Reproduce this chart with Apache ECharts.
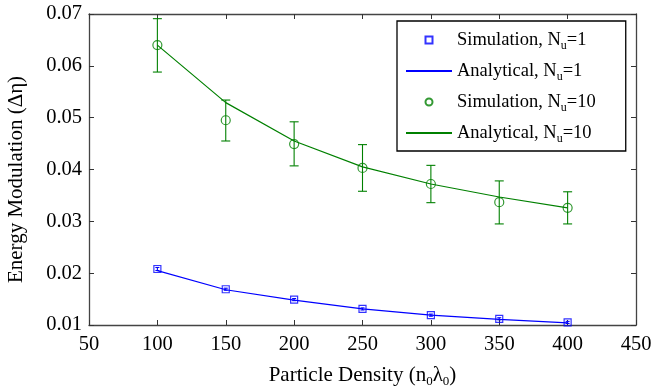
<!DOCTYPE html>
<html>
<head>
<meta charset="utf-8">
<script src="https://cdn.jsdelivr.net/npm/echarts@6/dist/echarts.min.js"></script>
<style>
  html, body { margin: 0; padding: 0; background: #fff; }
  #chart { width: 652px; height: 387px; }
</style>
</head>
<body>
<div id="chart"></div>
<script>
const densities = [100, 150, 200, 250, 300, 350, 400];

// N_u = 1
const sim1 = [0.0208, 0.0169, 0.0149, 0.0131, 0.0119, 0.0112, 0.0105];
const sim1Err = [0.0003, 0.0002, 0.0002, 0.0002, 0.0002, 0.0002, 0.0002];
const ana1 = [0.0205, 0.0168, 0.0148, 0.0131, 0.0119, 0.0111, 0.0104];

// N_u = 10
const sim10 = [0.0640, 0.0495, 0.0449, 0.0403, 0.0372, 0.0337, 0.0326];
const sim10Lo = [0.0588, 0.0455, 0.0407, 0.0358, 0.0336, 0.0295, 0.0295];
const sim10Hi = [0.0691, 0.0534, 0.0492, 0.0448, 0.0408, 0.0378, 0.0357];
const ana10 = [0.0640, 0.0529, 0.0455, 0.0405, 0.0372, 0.0347, 0.0326];

const xTicks = [50, 450, 50];      // min, max, step
const yTicks = [0.01, 0.07, 0.01];

const BLUE = "#0000ff";
const GREEN = "#008000";
const FONT = "Liberation Serif";

const LEGEND_LABELS = {
  sim1: ["Simulation, N", "=1"],
  ana1: ["Analytical, N", "=1"],
  sim10: ["Simulation, N", "=10"],
  ana10: ["Analytical, N", "=10"],
};

function errorBars(lo, hi, color, cap) {
  return {
    type: "custom",
    silent: true,
    z: 3,
    data: densities.map((x, i) => [x, lo[i], hi[i]]),
    renderItem: (params, api) => {
      const top = api.coord([api.value(0), api.value(2)]);
      const bot = api.coord([api.value(0), api.value(1)]);
      const style = { stroke: color, lineWidth: 1.1 };
      return {
        type: "group",
        children: [
          { type: "line", shape: { x1: top[0], y1: top[1], x2: bot[0], y2: bot[1] }, style },
          { type: "line", shape: { x1: top[0] - cap, y1: top[1], x2: top[0] + cap, y2: top[1] }, style },
          { type: "line", shape: { x1: bot[0] - cap, y1: bot[1], x2: bot[0] + cap, y2: bot[1] }, style },
        ],
      };
    },
  };
}

const axisLine = { show: true, lineStyle: { color: "#444", width: 1.3 } };
const tickIn = { show: true, inside: true, length: 5, lineStyle: { color: "#333" } };
const noSymbol = { color: "rgba(0,0,0,0)", borderWidth: 0 };

const chart = echarts.init(document.getElementById("chart"), null, { renderer: "canvas" });

chart.setOption({
  animation: false,
  textStyle: { fontFamily: FONT },
  grid: { left: 89, right: 16, top: 14, bottom: 62, containLabel: false, outerBoundsMode: "none" },
  legend: {
    orient: "vertical",
    left: 397,
    top: 21,
    padding: [7, 30, 6, 8],
    itemGap: 7,
    itemWidth: 46,
    itemHeight: 7,
    borderColor: "#000",
    borderWidth: 1.3,
    backgroundColor: "#fff",
    data: [
      { name: "sim1", icon: "path://M0,0L10,0L10,10L0,10Z" },
      { name: "ana1", itemStyle: noSymbol },
      { name: "sim10", icon: "circle" },
      { name: "ana10", itemStyle: noSymbol },
    ],
    formatter: (name) => {
      const [a, b] = LEGEND_LABELS[name];
      return `{t|${a}}{s|u}{t|${b}}`;
    },
    textStyle: {
      color: "#000",
      rich: {
        t: { fontFamily: FONT, fontSize: 18.5, color: "#000", lineHeight: 22 },
        s: { fontFamily: FONT, fontSize: 12, color: "#000", padding: [12, 0, 0, 0], lineHeight: 22 },
      },
    },
  },
  xAxis: [
    {
      type: "value",
      min: xTicks[0],
      max: xTicks[1],
      interval: xTicks[2],
      name: "{t|Particle Density (n}{s|0}{t|λ}{s|0}{t|)}",
      nameLocation: "middle",
      nameGap: 38,
      nameTextStyle: {
        rich: {
          t: { fontFamily: FONT, fontSize: 21, color: "#000" },
          s: { fontFamily: FONT, fontSize: 13, color: "#000", padding: [12, 0, 0, 0] },
        },
      },
      axisLine,
      axisTick: tickIn,
      splitLine: { show: false },
      axisLabel: { color: "#000", fontSize: 20.5, fontFamily: FONT, margin: 9 },
    },
    {
      type: "value",
      position: "top",
      min: xTicks[0],
      max: xTicks[1],
      interval: xTicks[2],
      axisLine,
      axisTick: tickIn,
      axisLabel: { show: false },
      splitLine: { show: false },
    },
  ],
  yAxis: [
    {
      type: "value",
      min: yTicks[0],
      max: yTicks[1],
      interval: yTicks[2],
      name: "Energy Modulation (Δη)",
      nameLocation: "middle",
      nameGap: 62,
      nameTextStyle: { fontFamily: FONT, fontSize: 21, color: "#000", padding: [0, 20, 0, 0] },
      axisLine,
      axisTick: tickIn,
      splitLine: { show: false },
      axisLabel: {
        color: "#000",
        fontSize: 20.5,
        fontFamily: FONT,
        margin: 7,
        formatter: (v) => v.toFixed(2),
      },
    },
    {
      type: "value",
      position: "right",
      min: yTicks[0],
      max: yTicks[1],
      interval: yTicks[2],
      axisLine,
      axisTick: tickIn,
      axisLabel: { show: false },
      splitLine: { show: false },
    },
  ],
  series: [
    {
      name: "ana1",
      type: "line",
      data: densities.map((x, i) => [x, ana1[i]]),
      symbol: "none",
      lineStyle: { color: BLUE, width: 1.2 },
      itemStyle: { color: BLUE },
      z: 2,
    },
    {
      name: "ana10",
      type: "line",
      data: densities.map((x, i) => [x, ana10[i]]),
      symbol: "none",
      lineStyle: { color: GREEN, width: 1.2 },
      itemStyle: { color: GREEN },
      z: 2,
    },
    errorBars(sim1.map((v, i) => v - sim1Err[i]), sim1.map((v, i) => v + sim1Err[i]), BLUE, 2),
    errorBars(sim10Lo, sim10Hi, GREEN, 4.5),
    {
      name: "sim1",
      type: "scatter",
      data: densities.map((x, i) => [x, sim1[i]]),
      symbol: "rect",
      symbolSize: 7,
      itemStyle: { color: "rgba(0,0,0,0)", borderColor: BLUE, borderWidth: 1.2 },
      z: 4,
    },
    {
      name: "sim10",
      type: "scatter",
      data: densities.map((x, i) => [x, sim10[i]]),
      symbol: "circle",
      symbolSize: 9,
      itemStyle: { color: "rgba(0,0,0,0)", borderColor: GREEN, borderWidth: 1.2 },
      z: 4,
    },
  ],
});
</script>
</body>
</html>
